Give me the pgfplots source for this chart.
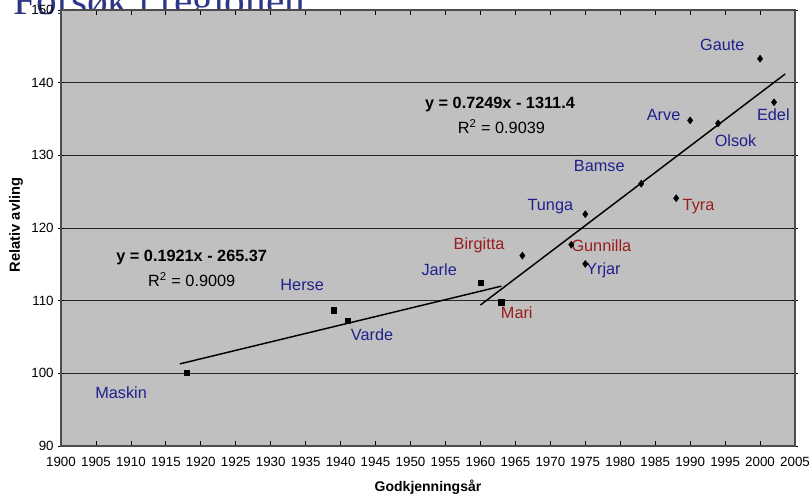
\documentclass[border=0pt]{standalone}
\usepackage{pgfplots}
\pgfplotsset{compat=1.18}
\usepackage{fontspec}
\setmainfont{Liberation Sans}
\newfontfamily\serif{Liberation Serif}
\definecolor{lblue}{RGB}{32,32,140}
\definecolor{lred}{RGB}{155,28,28}
\definecolor{ttl}{RGB}{44,56,135}
\definecolor{plotbg}{RGB}{192,192,192}
\tikzset{lbl/.style={font=\fontsize{12.2}{14}\selectfont, inner sep=1pt}}
\begin{document}
\begin{tikzpicture}
\node[anchor=base west, inner sep=0pt, text=ttl, font=\serif\fontsize{31}{34}\selectfont] at (10pt,360pt) {Forsøk i regionen:};
\begin{axis}[
  scale only axis, width=550.5pt, height=327pt,
  at={(45.75pt,36.75pt)}, anchor=south west,
  xmin=1900, xmax=2005, ymin=90, ymax=150,
  xtick={1900,1905,...,2005}, ytick={90,100,...,150},
  axis background/.style={fill=plotbg},
  ymajorgrids, grid style={black!85, line width=0.7pt},
  axis line style={gray!60!black, line width=0.8pt},
  tick style={black, line width=0.6pt},
  xtick align=inside, ytick align=center,
  major tick length=4pt,
  /pgf/number format/assume math mode=true,
  /pgf/number format/1000 sep={},
  tick label style={font=\fontsize{10}{12}\selectfont},
  xticklabel style={yshift=-5pt, inner xsep=0pt},
  xlabel={\textbf{Godkjenningsår}}, ylabel={\textbf{Relativ avling}},
  xlabel style={font=\fontsize{10.5}{12}\selectfont, at={(axis description cs:0.5,-0.094)}, anchor=center},
  ylabel style={font=\fontsize{11}{12}\selectfont, at={(axis description cs:-0.061,0.507)}, anchor=center},
  clip=false,
]
% left series (squares)
\addplot[only marks, mark=square*, mark size=2pt, black] coordinates {
  (1918,100.1) (1939,108.7) (1941,107.2) (1960,112.45) (1963,109.8)
};
% right series (diamonds)
\addplot[only marks, mark=diamond*, mark size=2.6pt, black] coordinates {
  (1966,116.2) (1973,117.7) (1975,121.9) (1975,115.06) (1983,126.1)
  (1988,124.1) (1990,134.8) (1994,134.4) (2002,137.3) (2000,143.3)
};
% trend lines
\addplot[black, line width=1.1pt] coordinates {(1917,101.3) (1963,112.0)};
\addplot[black, line width=1.1pt] coordinates {(1960,109.4) (2003.6,141.2)};
% labels
\node[lbl, text=lblue] at (axis cs:1908.6,97.3) {Maskin};
\node[lbl, text=lblue] at (axis cs:1934.5,112.2) {Herse};
\node[lbl, text=lblue] at (axis cs:1944.5,105.3) {Varde};
\node[lbl, text=lblue] at (axis cs:1954.1,114.2) {Jarle};
\node[lbl, text=lred] at (axis cs:1959.8,117.6) {Birgitta};
\node[lbl, text=lred] at (axis cs:1965.2,108.4) {Mari};
\node[lbl, text=lred] at (axis cs:1977.3,117.6) {Gunnilla};
\node[lbl, text=lblue] at (axis cs:1977.6,114.2) {Yrjar};
\node[lbl, text=lblue] at (axis cs:1970,123.0) {Tunga};
\node[lbl, text=lblue] at (axis cs:1977,128.5) {Bamse};
\node[lbl, text=lred] at (axis cs:1991.2,123.0) {Tyra};
\node[lbl, text=lblue] at (axis cs:1986.2,135.6) {Arve};
\node[lbl, text=lblue] at (axis cs:1996.5,132.0) {Olsok};
\node[lbl, text=lblue] at (axis cs:2001.9,135.6) {Edel};
\node[lbl, text=lblue] at (axis cs:1994.6,145.2) {Gaute};
% equations
\node[lbl] at (axis cs:1918.7,116.0) {\textbf{y = 0.1921x - 265.37}};
\node[lbl] at (axis cs:1918.7,112.9) {R\textsuperscript{2} = 0.9009};
\node[lbl] at (axis cs:1962.8,137.0) {\textbf{y = 0.7249x - 1311.4}};
\node[lbl] at (axis cs:1963.0,134.0) {R\textsuperscript{2} = 0.9039};
\end{axis}
\pgfresetboundingbox
\useasboundingbox (0,0) rectangle (606.75pt,371.25pt);
\end{tikzpicture}
\end{document}
